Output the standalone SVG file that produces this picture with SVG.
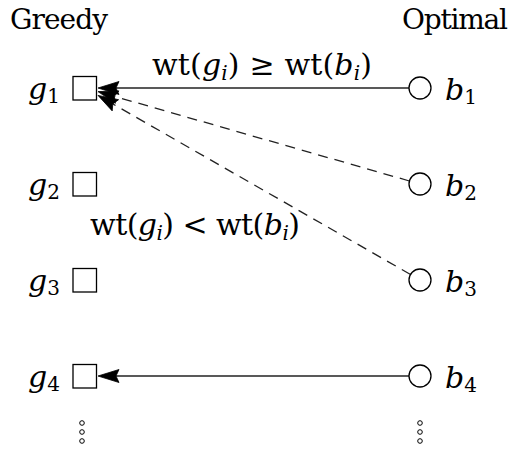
<svg xmlns="http://www.w3.org/2000/svg" width="510" height="454" viewBox="0 0 510 454">
<style>
text{font-family:"DejaVu Serif","Liberation Serif",serif;fill:#000}
.h{font-size:28px}
.m{font-size:30px}
.it{font-style:italic}
.sub{font-size:20px}
.sq{fill:#fff;stroke:#000;stroke-width:1.3}
.ci{fill:#fff;stroke:#000;stroke-width:1.3}
.e{fill:none;stroke:#222;stroke-width:1.3}
.d{stroke-dasharray:10 7}
.ah{fill:#000;stroke:#000;stroke-width:0.8;stroke-linejoin:miter}
.dot{fill:none;stroke:#000;stroke-width:1}
</style>
<text class="h" x="10" y="29" textLength="98">Greedy</text>
<text class="h" x="508" y="29" text-anchor="end" textLength="106">Optimal</text>
<g id="edges">
<line class="e" x1="409" y1="88" x2="115" y2="88"/>
<polygon class="ah" points="98,88 119,81.5 116,88 119,94.5"/>
<line class="e d" x1="409.4" y1="181" x2="114.3" y2="96.3"/>
<polygon class="ah" points="98,91.6 119,90.9 114.3,96.3 115.4,103.3"/>
<line class="e d" x1="410.5" y1="274.5" x2="112.8" y2="103.9"/>
<polygon class="ah" points="98,95.4 118.6,99.7 112.8,103.9 112.2,110.9"/>
<line class="e" x1="409" y1="376" x2="115" y2="376"/>
<polygon class="ah" points="98,376 119,369.5 116,376 119,382.5"/>
</g>
<g id="label-ge"><text class="m" x="262" y="75" text-anchor="middle" textLength="220" lengthAdjust="spacing">wt(<tspan class="it">g</tspan><tspan class="it sub" dy="5">i</tspan><tspan dy="-5">) ≥ wt(</tspan><tspan class="it">b</tspan><tspan class="it sub" dy="5">i</tspan><tspan dy="-5">)</tspan></text></g>
<g id="label-lt"><text class="m" x="195" y="235" text-anchor="middle" textLength="210" lengthAdjust="spacing">wt(<tspan class="it">g</tspan><tspan class="it sub" dy="5">i</tspan><tspan dy="-5">) &lt; wt(</tspan><tspan class="it">b</tspan><tspan class="it sub" dy="5">i</tspan><tspan dy="-5">)</tspan></text></g>
<g id="g1"><rect class="sq" x="73" y="76.5" width="23.5" height="23.5"/><text class="m" x="60" y="99" text-anchor="end"><tspan class="it">g</tspan><tspan class="sub" dy="4">1</tspan></text></g>
<g id="g2"><rect class="sq" x="73" y="172.5" width="23.5" height="23.5"/><text class="m" x="60" y="195" text-anchor="end"><tspan class="it">g</tspan><tspan class="sub" dy="4">2</tspan></text></g>
<g id="g3"><rect class="sq" x="73" y="268.5" width="23.5" height="23.5"/><text class="m" x="60" y="291" text-anchor="end"><tspan class="it">g</tspan><tspan class="sub" dy="4">3</tspan></text></g>
<g id="g4"><rect class="sq" x="73" y="364.5" width="23.5" height="23.5"/><text class="m" x="60" y="387" text-anchor="end"><tspan class="it">g</tspan><tspan class="sub" dy="4">4</tspan></text></g>
<g id="b1"><circle class="ci" cx="420" cy="88" r="11"/><text class="m" x="445" y="100"><tspan class="it">b</tspan><tspan class="sub" dy="4">1</tspan></text></g>
<g id="b2"><circle class="ci" cx="420" cy="184" r="11"/><text class="m" x="445" y="196"><tspan class="it">b</tspan><tspan class="sub" dy="4">2</tspan></text></g>
<g id="b3"><circle class="ci" cx="420" cy="280" r="11"/><text class="m" x="445" y="292"><tspan class="it">b</tspan><tspan class="sub" dy="4">3</tspan></text></g>
<g id="b4"><circle class="ci" cx="420" cy="376" r="11"/><text class="m" x="445" y="388"><tspan class="it">b</tspan><tspan class="sub" dy="4">4</tspan></text></g>
<g id="vdots-left"><circle class="dot" cx="82" cy="423" r="2.3"/><circle class="dot" cx="82" cy="432" r="2.3"/><circle class="dot" cx="82" cy="441" r="2.3"/></g>
<g id="vdots-right"><circle class="dot" cx="420" cy="423" r="2.3"/><circle class="dot" cx="420" cy="432" r="2.3"/><circle class="dot" cx="420" cy="441" r="2.3"/></g>
</svg>
